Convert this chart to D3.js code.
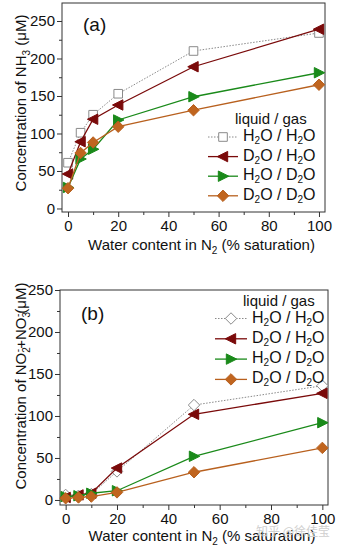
<!DOCTYPE html>
<html><head><meta charset="utf-8">
<script src="https://cdn.jsdelivr.net/npm/d3@7"></script>
<style>body{margin:0;background:#fff}svg{display:block;font-family:"Liberation Sans",Arial,sans-serif}</style>
</head><body>
<script>
const xValues = [0, 5, 10, 20, 50, 100];
const seriesNames = ["H2O/H2O", "D2O/H2O", "H2O/D2O", "D2O/D2O"];
const nh3_H2O_H2O = [61, 101, 125, 153, 210, 234];
const nh3_D2O_H2O = [46, 89, 119, 138, 189, 239];
const nh3_H2O_D2O = [28, 66, 79, 118, 149, 181];
const nh3_D2O_D2O = [27, 74, 88, 109, 131, 165];
const nox_H2O_H2O = [6, 5, 7, 34, 113, 136];
const nox_D2O_H2O = [3, 6, 8, 38, 102, 127];
const nox_H2O_D2O = [4, 5, 8, 11, 52, 92];
const nox_D2O_D2O = [2, 3, 4, 9, 33, 62];
const xTicks = [0, 20, 40, 60, 80, 100];
const yTicks = [0, 50, 100, 150, 200, 250];

const svg = d3.select("body").append("svg").attr("width", 341).attr("height", 554);

const styles = [
  {color: "#8a8a8a", dash: "1.5,1.5", marker: "square", fill: "#fff"},
  {color: "#7a0a0a", dash: null, marker: "left", fill: "#7a0a0a"},
  {color: "#1a8a1a", dash: null, marker: "right", fill: "#1a8a1a"},
  {color: "#b8601e", dash: null, marker: "diamond", fill: "#c0651f"}
];

function markerPath(type, s) {
  if (type === "square") return `M${-s},${-s}H${s}V${s}H${-s}Z`;
  if (type === "left") return `M${-s*1.1},0L${s*0.9},${-s}L${s*0.9},${s}Z`;
  if (type === "right") return `M${s*1.1},0L${-s*0.9},${-s}L${-s*0.9},${s}Z`;
  if (type === "diamond") return `M0,${-s*1.1}L${s*1.1},0L0,${s*1.1}L${-s*1.1},0Z`;
}
function markerSize(type) { return type === "square" ? 4.3 : 5.2; }

function drawPanel(cfg) {
  const g = svg.append("g");
  const x = d3.scaleLinear().domain(cfg.xDomain).range([cfg.left, cfg.right]);
  const y = d3.scaleLinear().domain(cfg.yDomain).range([cfg.bottom, cfg.top]);
  g.append("rect").attr("x", cfg.left).attr("y", cfg.top)
    .attr("width", cfg.right - cfg.left).attr("height", cfg.bottom - cfg.top)
    .attr("fill", "none").attr("stroke", "#333").attr("stroke-width", 1);
  const xAxis = d3.axisBottom(x).tickValues(xTicks).tickSize(5).tickPadding(3);
  const xa = g.append("g").attr("transform", `translate(0,${cfg.bottom})`).call(xAxis);
  xa.select(".domain").remove();
  xa.selectAll("text").attr("font-size", 15).attr("fill", "#111");
  xa.selectAll("line").attr("stroke", "#333");
  const xMinor = d3.axisBottom(x).tickValues([10, 30, 50, 70, 90]).tickSize(3).tickFormat("");
  const xm = g.append("g").attr("transform", `translate(0,${cfg.bottom})`).call(xMinor);
  xm.select(".domain").remove(); xm.selectAll("line").attr("stroke", "#333");
  const yAxis = d3.axisLeft(y).tickValues(yTicks).tickSize(5).tickPadding(2);
  const ya = g.append("g").attr("transform", `translate(${cfg.left},0)`).call(yAxis);
  ya.select(".domain").remove();
  ya.selectAll("text").attr("font-size", 15).attr("fill", "#111");
  ya.selectAll("line").attr("stroke", "#333");
  const yMinor = d3.axisLeft(y).tickValues([25, 75, 125, 175, 225]).tickSize(3).tickFormat("");
  const ym = g.append("g").attr("transform", `translate(${cfg.left},0)`).call(yMinor);
  ym.select(".domain").remove(); ym.selectAll("line").attr("stroke", "#333");

  cfg.series.forEach((vals, i) => {
    const st = styles[i];
    const mk = i === 0 ? cfg.firstMarker : st.marker;
    const line = d3.line().x((d, j) => x(xValues[j])).y(d => y(d));
    g.append("path").datum(vals).attr("d", line).attr("fill", "none")
      .attr("stroke", st.color).attr("stroke-width", i === 0 ? 1 : 1.3)
      .attr("stroke-dasharray", st.dash);
    g.selectAll(null).data(vals).enter().append("path")
      .attr("transform", (d, j) => `translate(${x(xValues[j])},${y(d)})`)
      .attr("d", markerPath(mk, markerSize(mk)))
      .attr("fill", st.fill).attr("stroke", i === 0 ? "#8a8a8a" : st.color).attr("stroke-width", 1);
  });

  const L = cfg.legend;
  g.append("text").attr("x", L.titleX).attr("y", L.titleY).attr("font-size", 15).attr("fill", "#111")
    .attr("dominant-baseline", "middle").text("liquid / gas");
  const labels = [["H","O","H","O"],["D","O","H","O"],["H","O","D","O"],["D","O","D","O"]];
  labels.forEach((lb, i) => {
    const st = styles[i];
    const mk = i === 0 ? cfg.firstMarker : st.marker;
    const yy = L.y0 + i * L.dy;
    g.append("line").attr("x1", L.x1).attr("x2", L.x2).attr("y1", yy).attr("y2", yy)
      .attr("stroke", st.color).attr("stroke-width", i === 0 ? 1 : 1.3).attr("stroke-dasharray", st.dash);
    g.append("path").attr("transform", `translate(${(L.x1 + L.x2) / 2},${yy})`)
      .attr("d", markerPath(mk, markerSize(mk)))
      .attr("fill", st.fill).attr("stroke", i === 0 ? "#8a8a8a" : st.color);
    const t = g.append("text").attr("x", L.tx).attr("y", yy).attr("font-size", 16).attr("fill", "#111")
      .attr("dominant-baseline", "middle");
    t.append("tspan").text(lb[0]);
    t.append("tspan").attr("font-size", 10).attr("dy", 4).text("2");
    t.append("tspan").attr("dy", -4).text("O / " + lb[2]);
    t.append("tspan").attr("font-size", 10).attr("dy", 4).text("2");
    t.append("tspan").attr("dy", -4).text("O");
  });

  g.append("text").attr("x", cfg.labelX).attr("y", cfg.labelY).attr("font-size", 19).attr("fill", "#111")
    .attr("dominant-baseline", "middle").text(cfg.label);

  const xt = g.append("text").attr("x", (cfg.left + cfg.right) / 2 + 8).attr("y", cfg.xTitleY)
    .attr("text-anchor", "middle").attr("font-size", 15).attr("fill", "#111");
  xt.append("tspan").text("Water content in N");
  xt.append("tspan").attr("font-size", 10).attr("dy", 4).text("2");
  xt.append("tspan").attr("dy", -4).text(" (% saturation)");

  const yt = g.append("text").attr("transform", `translate(${cfg.yTitleX},${cfg.yTitleY}) rotate(-90)`)
    .attr("text-anchor", "middle").attr("font-size", 15).attr("fill", "#111");
  cfg.yTitle(yt);
}

drawPanel({
  xDomain: [-2.4, 102.4], yDomain: [-4.7, 274],
  left: 62, right: 325, top: 3, bottom: 212,
  series: [nh3_H2O_H2O, nh3_D2O_H2O, nh3_H2O_D2O, nh3_D2O_D2O],
  firstMarker: "square",
  legend: {titleX: 235, titleY: 120, x1: 208, x2: 238, tx: 243, y0: 137, dy: 19.6},
  label: "(a)", labelX: 83, labelY: 26,
  xTitleY: 250,
  yTitleX: 26, yTitleY: 103,
  yTitle: t => {
    t.append("tspan").text("Concentration of NH");
    t.append("tspan").attr("font-size", 10).attr("dy", 4).text("3");
    t.append("tspan").attr("dy", -4).text(" (\u03BCM)");
  }
});

drawPanel({
  xDomain: [-2.2, 102.2], yDomain: [-6, 250],
  left: 60, right: 328, top: 290, bottom: 505,
  series: [nox_H2O_H2O, nox_D2O_H2O, nox_H2O_D2O, nox_D2O_D2O],
  firstMarker: "diamond",
  legend: {titleX: 243, titleY: 302, x1: 215, x2: 247, tx: 252, y0: 318.5, dy: 20.3},
  label: "(b)", labelX: 81, labelY: 315,
  xTitleY: 541,
  yTitleX: 26, yTitleY: 386,
  yTitle: t => {
    t.append("tspan").text("Concentration of NO");
    t.append("tspan").attr("font-size", 10).attr("dy", 4).text("2");
    t.append("tspan").attr("font-size", 10).attr("dy", -9).attr("dx", -5).text("-");
    t.append("tspan").attr("dy", 5).text("+NO");
    t.append("tspan").attr("font-size", 10).attr("dy", 4).text("3");
    t.append("tspan").attr("font-size", 10).attr("dy", -9).attr("dx", -5).text("-");
    t.append("tspan").attr("dy", 5).text("(\u03BCM)");
  }
});

svg.append("text").attr("x", 330).attr("y", 536).attr("text-anchor", "end").attr("font-size", 12)
  .attr("fill", "#cfcfcf").attr("font-family", "Noto Sans CJK SC").text("知乎 @徐佳莹");
</script>
</body></html>
